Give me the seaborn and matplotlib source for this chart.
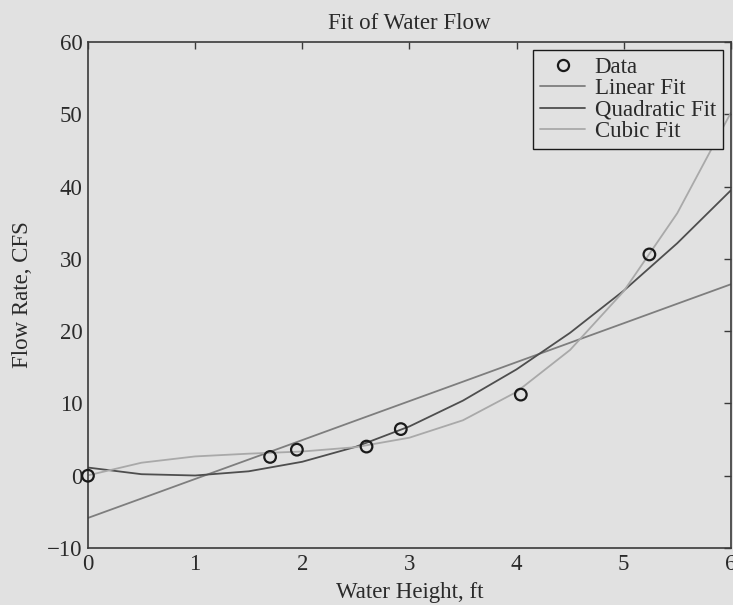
import matplotlib
matplotlib.use("Agg")
import matplotlib.pyplot as plt
import seaborn as sns
import pandas as pd
from matplotlib.lines import Line2D

# Data
height = [0, 1.7, 1.95, 2.60, 2.92, 4.04, 5.24]
flow = [0, 2.6, 3.6, 4.03, 6.45, 11.22, 30.61]

x_fit = [0, 0.5, 1, 1.5, 2, 2.5, 3, 3.5, 4, 4.5, 5, 5.5, 6]
linear_fit = [-5.84, -3.15, -0.45, 2.24, 4.93, 7.63, 10.32, 13.01, 15.71, 18.40, 21.09, 23.79, 26.48]
quadratic_fit = [1.13, 0.21, 0.03, 0.61, 1.93, 4.00, 6.82, 10.39, 14.71, 19.77, 25.59, 32.16, 39.47]
cubic_fit = [0.05, 1.80, 2.67, 3.05, 3.35, 3.95, 5.26, 7.67, 11.59, 17.40, 25.51, 36.31, 50.20]

x_ticks = [0, 1, 2, 3, 4, 5, 6]
y_ticks = [-10, 0, 10, 20, 30, 40, 50, 60]

bg = "#e1e1e1"
txt = "#2a2a2a"
FS = 16.5

sns.set_theme(style="white")
plt.rcParams["font.family"] = ["Liberation Serif", "DejaVu Serif"]
plt.rcParams["axes.unicode_minus"] = True

fig = plt.figure(figsize=(7.33, 6.05), dpi=100, facecolor=bg)
ax = fig.add_axes([0.120, 0.0942, 0.877, 0.8364])
ax.set_facecolor(bg)

df_pts = pd.DataFrame({"x": height, "y": flow})
df_fit = pd.DataFrame({"x": x_fit, "lin": linear_fit, "quad": quadratic_fit, "cub": cubic_fit})

sns.scatterplot(data=df_pts, x="x", y="y", ax=ax, marker="o", s=70,
                facecolor="none", edgecolor="#1a1a1a", linewidth=1.6,
                clip_on=False, zorder=5)
sns.lineplot(data=df_fit, x="x", y="lin", ax=ax, color="#7e7e7e", linewidth=1.3)
sns.lineplot(data=df_fit, x="x", y="quad", ax=ax, color="#4e4e4e", linewidth=1.3)
sns.lineplot(data=df_fit, x="x", y="cub", ax=ax, color="#a9a9a9", linewidth=1.3)

ax.set_xlim(0, 6)
ax.set_ylim(-10, 60)
ax.set_xticks(x_ticks)
ax.set_yticks(y_ticks)
ax.set_xticklabels([str(t) for t in x_ticks])
ax.set_yticklabels([("\u2212" + str(-t)) if t < 0 else str(t) for t in y_ticks])

ax.tick_params(axis="both", which="both", direction="in", length=5, width=1.0,
               colors="#3a3a3a", labelcolor=txt, labelsize=FS,
               top=True, right=True, pad=4)
for s in ax.spines.values():
    s.set_visible(True)
    s.set_color("#3a3a3a")
    s.set_linewidth(1.2)

ax.set_title("Fit of Water Flow", fontsize=FS, color=txt, pad=9)
ax.set_xlabel("Water Height, ft", fontsize=FS, color=txt, labelpad=5)
ax.set_ylabel("Flow Rate, CFS", fontsize=FS, color=txt, labelpad=10)

handles = [
    Line2D([], [], marker="o", linestyle="none", markerfacecolor="none",
           markeredgecolor="#1a1a1a", markeredgewidth=1.6, markersize=8),
    Line2D([], [], color="#7e7e7e", linewidth=1.3),
    Line2D([], [], color="#4e4e4e", linewidth=1.3),
    Line2D([], [], color="#a9a9a9", linewidth=1.3),
]
labels = ["Data", "Linear Fit", "Quadratic Fit", "Cubic Fit"]
leg = ax.legend(handles, labels, loc="upper right", fontsize=FS,
                frameon=True, fancybox=False, edgecolor="#1a1a1a",
                facecolor=bg, framealpha=1, borderpad=0.3,
                labelspacing=0.02, handlelength=2.0, handletextpad=0.4,
                borderaxespad=0.35)
leg.get_frame().set_linewidth(1.0)
for t in leg.get_texts():
    t.set_color(txt)

fig.savefig("out.png", dpi=100, facecolor=bg)
